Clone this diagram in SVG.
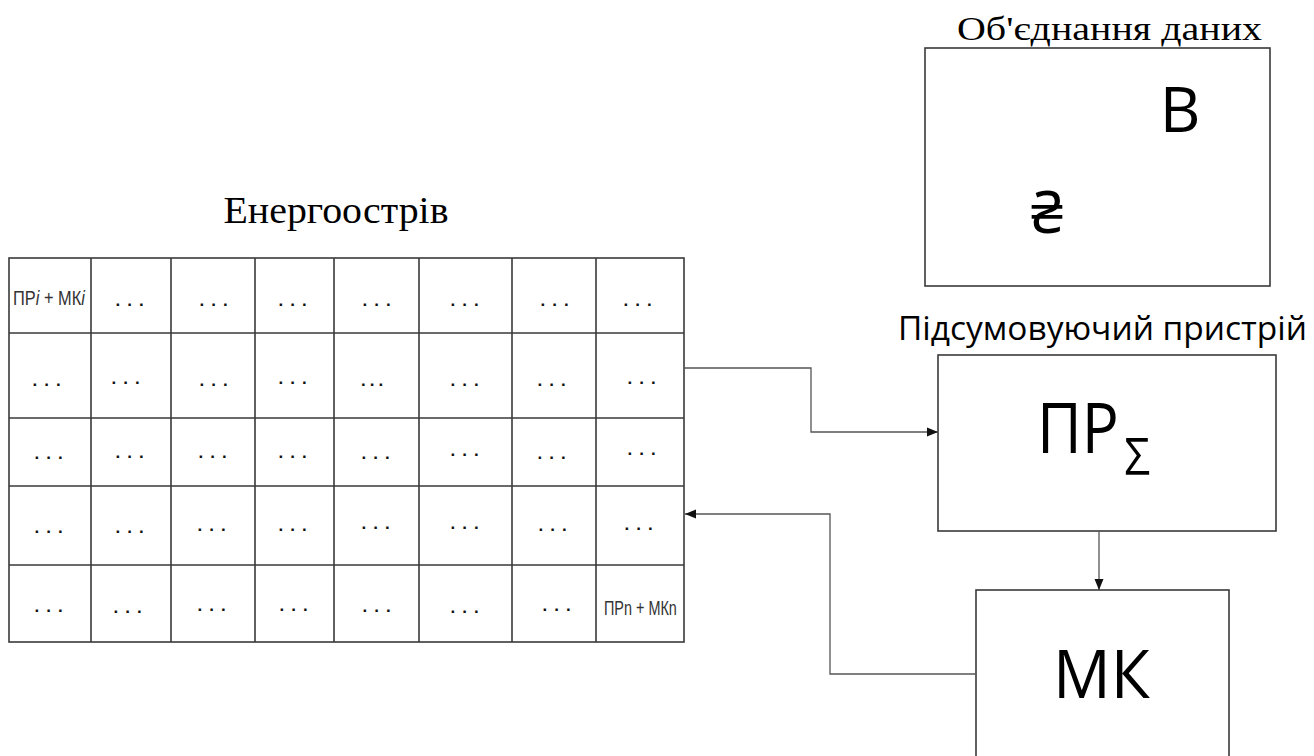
<svg xmlns="http://www.w3.org/2000/svg" width="1314" height="756" viewBox="0 0 1314 756">
  <style>
    .grid { fill: none; stroke: #3a3a3a; stroke-width: 1.6; }
    .box { fill: #ffffff; stroke: #3a3a3a; stroke-width: 1.6; }
    .wire { fill: none; stroke: #555555; stroke-width: 1.3; }
    .dots { font-family: "Liberation Sans", Arial, sans-serif; font-size: 17px; font-weight: bold; letter-spacing: 7px; fill: #111; }
    .cell { font-family: "Liberation Sans", Arial, sans-serif; font-size: 19.5px; fill: #333; }
    .serif { font-family: "Liberation Serif", "Times New Roman", serif; fill: #000; }
    .sans { font-family: "Open Sans", "Noto Sans", sans-serif; fill: #000; }
  </style>
  <defs>
    <marker id="arrow" markerUnits="userSpaceOnUse" markerWidth="12" markerHeight="10" refX="11" refY="5" orient="auto">
      <path d="M0,0.5 L11,5 L0,9.5 Z" fill="#111"/>
    </marker>
  </defs>

  <rect width="1314" height="756" fill="#ffffff"/>

  <!-- Energy island: 8 x 5 grid of cells -->
  <g id="energy-island">
    <text class="serif" x="336" y="223" font-size="38" text-anchor="middle" textLength="225" lengthAdjust="spacingAndGlyphs">Енергоострів</text>
    <rect class="grid" x="9" y="258" width="675" height="384"/>
    <path class="grid" d="M91,258V642 M171,258V642 M255,258V642 M334,258V642 M419,258V642 M512,258V642 M596,258V642
                          M9,333H684 M9,418H684 M9,486H684 M9,565H684"/>
    <!-- corner cell labels, set in a horizontally condensed face -->
    <g transform="translate(13,305) scale(0.84,1)">
      <text class="cell" x="0" y="0">ПР<tspan font-style="italic">i</tspan> + МК<tspan font-style="italic">i</tspan></text>
    </g>
    <g transform="translate(604,615) scale(0.74,1)">
      <text class="cell" x="0" y="0">ПРn + МКn</text>
    </g>
    <g class="dots">
      <!-- row 1 -->
      <text x="115.5" y="306">...</text>
      <text x="199.5" y="306">...</text>
      <text x="278.5" y="306">...</text>
      <text x="362.5" y="306">...</text>
      <text x="450.5" y="306">...</text>
      <text x="540.5" y="306">...</text>
      <text x="623.5" y="306">...</text>
      <!-- row 2 -->
      <text x="32.5" y="386">...</text>
      <text x="111.5" y="384">...</text>
      <text x="199.5" y="386">...</text>
      <text x="278.5" y="384">...</text>
      <text x="361" y="386" letter-spacing="4">...</text>
      <text x="450.5" y="386">...</text>
      <text x="537.5" y="386">...</text>
      <text x="627.5" y="384">...</text>
      <!-- row 3 -->
      <text x="34.5" y="459">...</text>
      <text x="115.5" y="458">...</text>
      <text x="198.5" y="458">...</text>
      <text x="278.5" y="458">...</text>
      <text x="361.5" y="459">...</text>
      <text x="450.5" y="456">...</text>
      <text x="537.5" y="459">...</text>
      <text x="627.5" y="455">...</text>
      <!-- row 4 -->
      <text x="34.5" y="533">...</text>
      <text x="115.5" y="533">...</text>
      <text x="197.5" y="531">...</text>
      <text x="278.5" y="531">...</text>
      <text x="361.5" y="529">...</text>
      <text x="450.5" y="529">...</text>
      <text x="538.5" y="531">...</text>
      <text x="624.5" y="530">...</text>
      <!-- row 5 -->
      <text x="34.5" y="612">...</text>
      <text x="113.5" y="613">...</text>
      <text x="197.5" y="611">...</text>
      <text x="279.5" y="611">...</text>
      <text x="362.5" y="612">...</text>
      <text x="450.5" y="613">...</text>
      <text x="542.5" y="611">...</text>
    </g>
  </g>

  <!-- Data merge block -->
  <g id="data-merge">
    <text class="serif" x="957" y="40" font-size="34" textLength="305" lengthAdjust="spacingAndGlyphs">Об'єднання даних</text>
    <rect class="box" x="925" y="48" width="345" height="238"/>
    <text class="sans" x="1180" y="132" font-size="63" text-anchor="middle">В</text>
    <text x="1047" y="233" font-size="58" text-anchor="middle" font-family="Noto Sans, DejaVu Sans, sans-serif" fill="#000">₴</text>
  </g>

  <!-- Summing device -->
  <g id="summing-device">
    <text class="sans" x="898" y="340" font-size="33" textLength="409" lengthAdjust="spacingAndGlyphs">Підсумовуючий пристрій</text>
    <rect class="box" x="938" y="355" width="338" height="176"/>
    <g transform="translate(1037,453) scale(0.88,1)">
      <text class="sans" x="0" y="0" font-size="70">ПР<tspan dx="6" dy="22" font-size="52">Σ</tspan></text>
    </g>
  </g>

  <!-- Microcontroller -->
  <g id="microcontroller">
    <rect class="box" x="976" y="590" width="253" height="200"/>
    <text class="sans" x="1053" y="698" font-size="67" textLength="97" lengthAdjust="spacingAndGlyphs">МК</text>
  </g>

  <!-- Connectors -->
  <g id="connectors">
    <path class="wire" d="M684,368 H811 V432 H938" marker-end="url(#arrow)"/>
    <path class="wire" d="M1099,531 V590" marker-end="url(#arrow)"/>
    <path class="wire" d="M976,674 H830 V514 H685" marker-end="url(#arrow)"/>
  </g>
</svg>
